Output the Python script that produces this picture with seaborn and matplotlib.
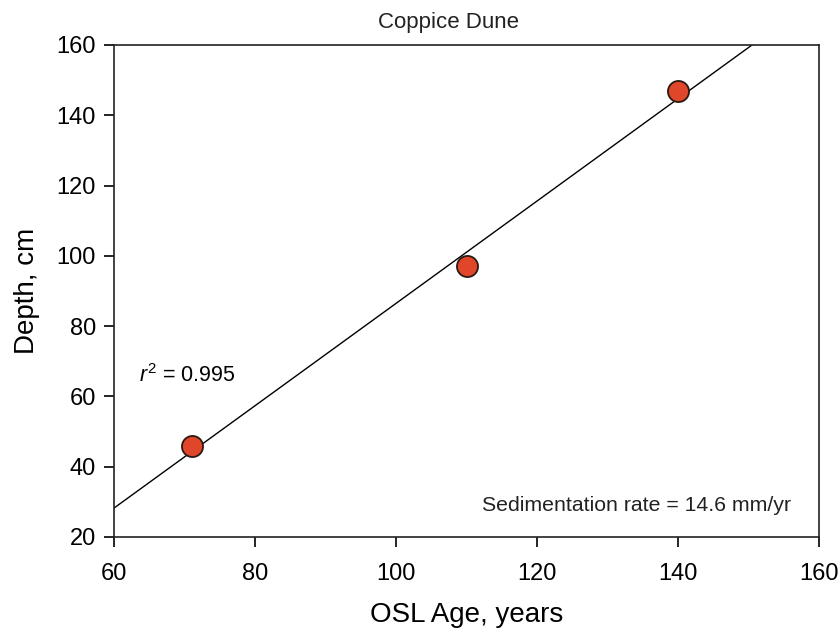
import numpy as np
import pandas as pd
import matplotlib
matplotlib.use("Agg")
import matplotlib.pyplot as plt
import seaborn as sns

# OSL ages and sample depths
age_years = [71, 110, 140]
depth_cm = [46, 97, 147]

x_ticks = [60, 80, 100, 120, 140, 160]
y_ticks = [20, 40, 60, 80, 100, 120, 140, 160]

sns.set_theme(style="ticks")
plt.rcParams["font.family"] = ["Liberation Sans", "DejaVu Sans"]
plt.rcParams["mathtext.fontset"] = "custom"
plt.rcParams["mathtext.rm"] = "Liberation Sans"
plt.rcParams["mathtext.it"] = "Liberation Sans:italic"
plt.rcParams["text.color"] = "black"
plt.rcParams["axes.labelcolor"] = "black"

df = pd.DataFrame({"age": age_years, "depth": depth_cm})

# Linear fit of depth against age
slope, intercept = np.polyfit(df["age"], df["depth"], 1)
pred = slope * df["age"] + intercept
r2 = 1 - np.sum((df["depth"] - pred) ** 2) / np.sum((df["depth"] - df["depth"].mean()) ** 2)

fig = plt.figure(figsize=(8.39, 6.31), dpi=100)
ax = fig.add_axes([0.1359, 0.149, 0.8403, 0.7797])

fit_x = np.linspace(x_ticks[0], x_ticks[-1], 200)
fit_df = pd.DataFrame({"age": fit_x, "depth": slope * fit_x + intercept})
sns.lineplot(data=fit_df, x="age", y="depth", ax=ax, color="black", linewidth=1.0)

sns.scatterplot(data=df, x="age", y="depth", ax=ax, s=230, color="#E0462A",
                edgecolor="#2a1a12", linewidth=1.3, zorder=5)

ax.set_xlim(x_ticks[0], x_ticks[-1])
ax.set_ylim(y_ticks[0], y_ticks[-1])
ax.set_xticks(x_ticks)
ax.set_yticks(y_ticks)
ax.tick_params(axis="both", direction="out", length=7, width=1.2, labelsize=17,
               colors="black")
ax.tick_params(axis="x", pad=12)
ax.tick_params(axis="y", pad=6)
for side in ax.spines.values():
    side.set_linewidth(1.2)
    side.set_color("#222222")

ax.set_xlabel("OSL Age, years", fontsize=20, labelpad=12)
ax.set_ylabel("Depth, cm", fontsize=20, labelpad=12)
ax.text(0.475, 1.045, "Coppice Dune", transform=ax.transAxes, fontsize=16,
        ha="center", va="center", color="#222222")

ax.text(63.5, 64, rf"$r^2$ = {r2:.3f}", fontsize=15.5, ha="left", va="baseline")
ax.text(156, 27.5, f"Sedimentation rate = {slope * 10:.1f} mm/yr", fontsize=15.3,
        ha="right", va="baseline", color="#222222")

fig.savefig("out.png", dpi=100)
